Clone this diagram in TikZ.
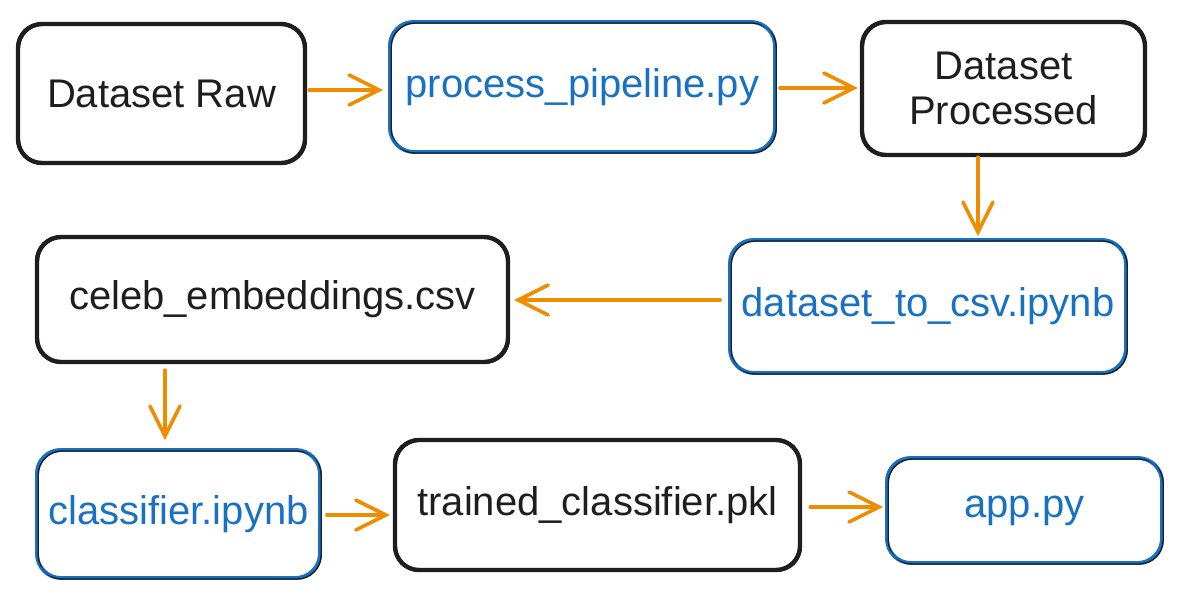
\documentclass[tikz,border=0pt]{standalone}
\usepackage{fontspec}
\setmainfont{Liberation Sans}
\usetikzlibrary{arrows.meta,positioning,calc}
\definecolor{ink}{HTML}{1E1E1E}
\definecolor{blu}{HTML}{1971C2}
\definecolor{org}{HTML}{F08C00}
\tikzset{
  box/.style={draw=ink, text=ink, line width=4.4pt, rounded corners=24pt, align=center,
    font=\fontsize{40}{45}\selectfont, inner sep=0pt,
    postaction={draw=ink, line width=1.4pt, transform canvas={shift={(1.2pt,-1pt)}}}},
  bluebox/.style={box, draw=blu, text=blu, line width=3.8pt,
    postaction={draw=blu, line width=1.3pt, transform canvas={shift={(-1.1pt,1pt)}}}},
  flow/.style={draw=org, line width=3.6pt, line cap=round,
    -{Straight Barb[length=30pt,width=30pt,line width=3.6pt,line cap=round]}},
}
\begin{document}
\begin{tikzpicture}[x=1pt,y=-1pt]
\useasboundingbox (0,0) rectangle (1181,600);
\node[box, minimum width=287pt, minimum height=139pt] (raw) at (161.5,93.5) {Dataset Raw};
\node[bluebox, minimum width=385pt, minimum height=130pt] (proc) at (582.5,87) {process\_pipeline.py};
\node[box, minimum width=283pt, minimum height=133pt] (dsp) at (1003.5,88.5) {Dataset\\Processed};
\node[bluebox, minimum width=396pt, minimum height=133pt] (csv) at (928,306.5) {dataset\_to\_csv.ipynb};
\node[box, minimum width=471pt, minimum height=125pt] (emb) at (272.5,299.5) {celeb\_embeddings.csv};
\node[bluebox, minimum width=283pt, minimum height=128pt] (clf) at (178.5,514) {classifier.ipynb};
\node[box, minimum width=405pt, minimum height=130pt] (pkl) at (597.5,505) {trained\_classifier.pkl};
\node[bluebox, minimum width=275pt, minimum height=105pt] (app) at (1024.5,510.5) {app.py};

\draw[flow] ([shift={(2pt,3.5pt)}]raw.east) -- ([shift={(-5pt,-3pt)}]proc.west);
\draw[flow] ([shift={(3pt,-1pt)}]proc.east) -- ([shift={(-2pt,0.5pt)}]dsp.west);
\draw[flow] ([shift={(-25.5pt,0pt)}]dsp.south) -- ([shift={(50pt,2pt)}]csv.north);
\draw[flow] ([shift={(-8pt,6.5pt)}]csv.west) -- ([shift={(4pt,-0.5pt)}]emb.east);
\draw[flow] ([shift={(-107.5pt,-6pt)}]emb.south) -- ([shift={(-13.5pt,8pt)}]clf.north);
\draw[flow] ([shift={(5pt,-1pt)}]clf.east) -- ([shift={(-3pt,-10pt)}]pkl.west);
\draw[flow] ([shift={(8pt,-2pt)}]pkl.east) -- ([shift={(-2pt,3.5pt)}]app.west);
\end{tikzpicture}
\end{document}
